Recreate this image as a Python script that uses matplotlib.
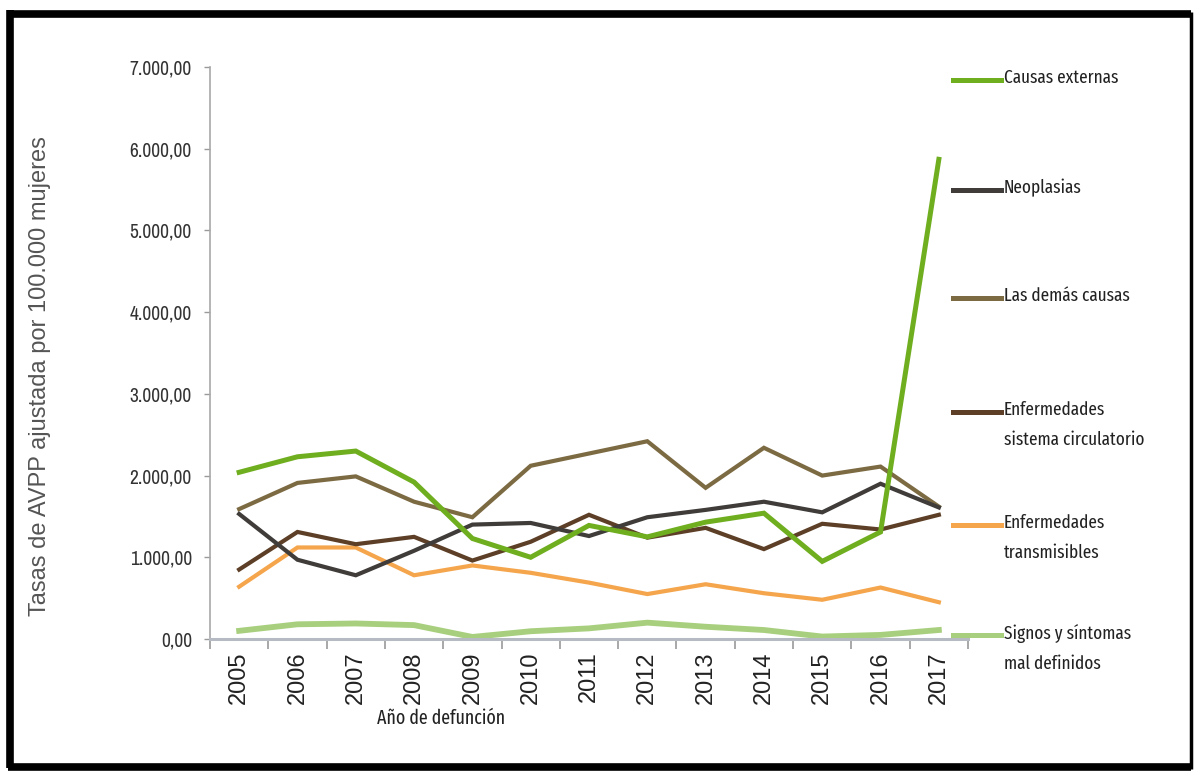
import numpy as np
from matplotlib import pyplot as plt
from matplotlib.lines import Line2D
from matplotlib.ticker import FuncFormatter, FixedLocator

# AVPP rates per 100.000 women, by year of death
years = [2005, 2006, 2007, 2008, 2009, 2010, 2011, 2012, 2013, 2014, 2015, 2016, 2017]

causas_externas = [2040, 2230, 2300, 1920, 1230, 1000, 1390, 1250, 1430, 1540, 950, 1310, 5870]
neoplasias = [1530, 970, 780, 1080, 1400, 1420, 1260, 1490, 1580, 1680, 1550, 1900, 1610]
demas_causas = [1590, 1910, 1990, 1680, 1490, 2120, 2270, 2420, 1850, 2340, 2000, 2110, 1620]
circulatorio = [850, 1310, 1160, 1250, 960, 1190, 1520, 1240, 1360, 1100, 1410, 1340, 1520]
transmisibles = [640, 1120, 1120, 780, 900, 810, 690, 550, 670, 560, 480, 630, 450]
signos = [100, 180, 190, 170, 25, 95, 130, 200, 150, 110, 30, 50, 110]

labels = ['Causas externas', 'Neoplasias', 'Las demás causas',
          'Enfermedades\nsistema circulatorio', 'Enfermedades\ntransmisibles',
          'Signos y síntomas\nmal definidos']
colors = ['#6fae1f', '#3f3c3a', '#7c6a42', '#5c3f26', '#f5a54c', '#a8cf7e']
widths = [3.6, 3.0, 3.0, 3.0, 3.0, 4.2]

narrow = ['Archivo Narrow', 'DejaVu Sans']
condensed = ['Fira Sans Extra Condensed', 'Archivo Narrow', 'DejaVu Sans']
regular = ['Liberation Sans', 'DejaVu Sans']

W, H = 1194, 773
fig = plt.figure(figsize=(W / 100, H / 100), dpi=100)
ax = fig.add_axes([210 / W, 1 - 639 / H, 758 / W, 572 / H])

series = [causas_externas, neoplasias, demas_causas, circulatorio, transmisibles, signos]
# light lines underneath, causas externas on top
for z, i in enumerate([5, 4, 3, 2, 1, 0]):
    ax.plot(years, series[i], color=colors[i], lw=widths[i],
            solid_joinstyle='miter', zorder=2 + z)

ax.set_xlim(2004.5, 2017.5)
ax.set_ylim(0, 7000)
ax.set_yticks(np.arange(0, 7001, 1000))
ax.yaxis.set_major_formatter(FuncFormatter(
    lambda v, p: '{:,.2f}'.format(v).replace(',', 'X').replace('.', ',').replace('X', '.')))

# category axis: ticks between years, labels centred on each year
ax.xaxis.set_major_locator(FixedLocator(np.arange(2004.5, 2018, 1)))
ax.xaxis.set_minor_locator(FixedLocator(years))
ax.set_xticklabels([])
ax.set_xticklabels([str(y) for y in years], minor=True, rotation=90,
                   fontsize=17, family=regular, color='#222222')
ax.tick_params(axis='x', which='major', length=7, width=1.2, color='#9a9a9a', direction='out')
ax.tick_params(axis='x', which='minor', length=0, pad=9)
ax.tick_params(axis='y', length=4, width=1, color='#9a9a9a', pad=9)
for t in ax.get_yticklabels():
    t.set_family(narrow)
    t.set_fontsize(14)
    t.set_color('#333333')

for s in ['top', 'right']:
    ax.spines[s].set_visible(False)
ax.spines['left'].set_color('#a8a8a8')
ax.spines['left'].set_linewidth(1.2)
ax.spines['bottom'].set_color('#b6bac2')
ax.spines['bottom'].set_linewidth(2.2)

fig.text(40 / W, 1 - 376 / H, 'Tasas de AVPP ajustada por 100.000 mujeres', rotation=90,
         ha='center', va='center', fontsize=17, family=regular, color='#555555')
fig.text(441 / W, 1 - 718 / H, 'Año de defunción', ha='center', va='center',
         fontsize=14, family=condensed, color='#222222')

# legend on the right, handle level with the first text line
leg_y = [80, 190, 298, 412, 525, 635]
for lab, col, yp in zip(labels, colors, leg_y):
    yf = 1 - yp / H
    fig.add_artist(Line2D([953 / W, 1001 / W], [yf, yf], color=col, lw=3.6,
                          transform=fig.transFigure))
    fig.text(1004 / W, yf + 11 / H, lab, ha='left', va='top', fontsize=13.5,
             family=condensed, color='#222222', linespacing=1.85)

# black frame, thinner on the right edge
frame = [([10, 10], [10, 768], 5.5), ([8, 1191], [14, 14], 5.5),
         ([8, 1191], [767, 767], 5.5), ([1191, 1191], [12, 769], 2.5)]
for xs, ys, lw in frame:
    fig.add_artist(Line2D([x / W for x in xs], [1 - y / H for y in ys], color='black',
                          lw=lw, transform=fig.transFigure, solid_capstyle='butt'))

fig.savefig('out.png', dpi=100)
